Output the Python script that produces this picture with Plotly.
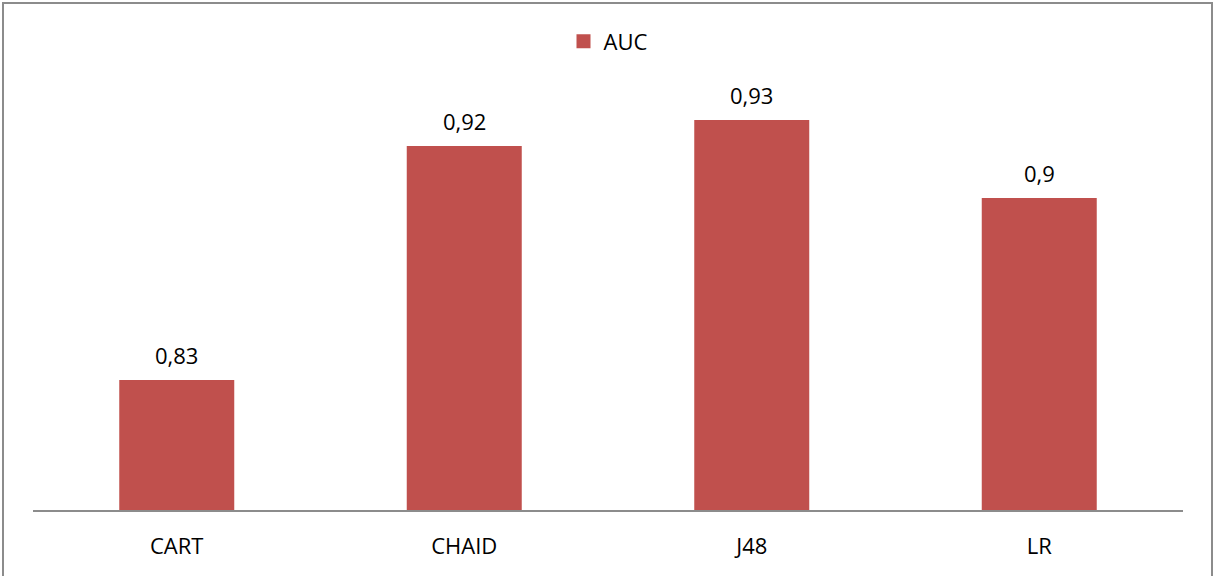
import plotly.graph_objects as go

# AUC per classifier
models = ["CART", "CHAID", "J48", "LR"]
auc = [0.83, 0.92, 0.93, 0.90]
series_name = "AUC"

bar_color = "#C0504D"
font_family = "Open Sans, Liberation Sans, sans-serif"
fsize = 22

W, H = 1223, 576
ml, mr, mt, mb = 33, 40, 68, 66
pw, ph = W - ml - mr, H - mt - mb


def fmt(v):
    # decimal comma, trailing zeros dropped
    return f"{v:g}".replace(".", ",")


fig = go.Figure()
fig.add_trace(go.Bar(
    x=models,
    y=auc,
    name=series_name,
    marker=dict(color=bar_color, line=dict(width=0)),
    showlegend=False,
    legendgroup="auc",
))
# legend entry with a larger square swatch
fig.add_trace(go.Scatter(
    x=[None], y=[None], mode="markers", name=series_name,
    legendgroup="auc",
    marker=dict(symbol="square", size=14, color=bar_color),
))

for m, v in zip(models, auc):
    fig.add_annotation(
        x=m, y=v, text=fmt(v), showarrow=False,
        yanchor="bottom", yshift=8,
        font=dict(family=font_family, size=fsize, color="#000000"),
    )

# outer chart border
fig.add_shape(
    type="rect", xref="paper", yref="paper",
    x0=(3 - ml) / pw, x1=(1212 - ml) / pw,
    y0=(H - mt - 577) / ph, y1=(H - mt - 1) / ph,
    line=dict(color="#8c8c8c", width=2), layer="below",
)

fig.update_layout(
    width=W, height=H,
    margin=dict(l=ml, r=mr, t=mt, b=mb, pad=0),
    paper_bgcolor="white", plot_bgcolor="white",
    bargap=0.6,
    font=dict(family=font_family, size=fsize, color="#000000"),
    legend=dict(
        orientation="h", x=0.5, xanchor="center",
        y=1.06, yanchor="middle",
        font=dict(size=fsize), itemwidth=30,
        bgcolor="rgba(0,0,0,0)",
    ),
    xaxis=dict(
        showline=True, linecolor="#8c8c8c", linewidth=2,
        ticks="", showgrid=False, ticklabelstandoff=16,
        tickfont=dict(size=fsize),
    ),
    yaxis=dict(
        range=[0.78, 0.95], visible=False, showgrid=False, zeroline=False,
    ),
)

fig.write_html("out.html")
